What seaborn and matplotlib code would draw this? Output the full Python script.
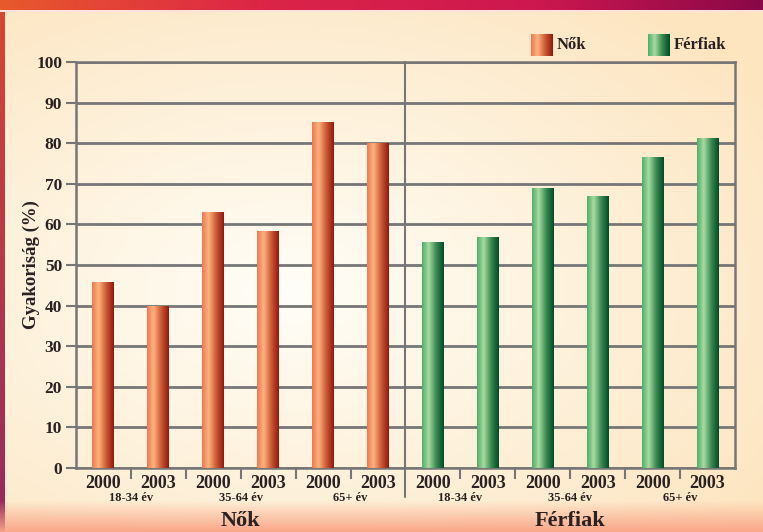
import numpy as np
import pandas as pd
import matplotlib.pyplot as plt
import seaborn as sns
from matplotlib.colors import LinearSegmentedColormap

# ── Data ──────────────────────────────────────────────────────────────────────
groups      = ["Nők", "Férfiak"]
age_groups  = ["18-34 év", "35-64 év", "65+ év"]
years       = ["2000", "2003"]
nok_vals    = [45.7, 39.7, 63.0, 58.3, 85.1, 80.0]
ferfi_vals  = [55.5, 56.7, 68.8, 66.8, 76.6, 81.2]

rows = []
for g, vals in zip(groups, [nok_vals, ferfi_vals]):
    i = 0
    for a in age_groups:
        for y in years:
            rows.append({"nem": g, "kor": a, "ev": y, "ertek": vals[i],
                         "slot": f"{g}|{a}|{y}"})
            i += 1
df = pd.DataFrame(rows)

# ── Style ─────────────────────────────────────────────────────────────────────
sns.set_style("white")
plt.rcParams["font.family"] = ["Liberation Serif", "DejaVu Serif"]
GREY = "#767676"
TXT = "#2a2222"

W, H = 763, 532
fig = plt.figure(figsize=(W / 100, H / 100), dpi=100)

# ── Background gradient ───────────────────────────────────────────────────────
yy, xx = np.mgrid[0:H, 0:W]
d = np.sqrt(((xx - W * 0.38) / (W * 0.75)) ** 2 + ((yy - H * 0.55) / (H * 0.7)) ** 2)
d = np.clip(d, 0, 1)[..., None]
centre = np.array([255, 254, 248]) / 255
edge = np.array([253, 229, 192]) / 255
img = centre * (1 - d) + edge * d

# top band
t = np.linspace(0, 1, W)
top_cols = np.array([[232, 90, 44], [220, 36, 72], [205, 24, 80], [138, 8, 72]]) / 255
stops = np.array([0, 0.35, 0.7, 1])
band = np.stack([np.interp(t, stops, top_cols[:, k]) for k in range(3)], axis=1)
img[0:10, :, :] = band[None, :, :]
img[10:12, :, :] = np.array([252, 226, 220]) / 255
# left strip
s = np.linspace(0, 1, H - 12)
left_col = np.stack([np.interp(s, [0, 1], [c0, c1]) for c0, c1 in
                     zip([214, 70, 50], [150, 40, 96])], axis=1) / 255
img[12:, 0:5, :] = left_col[:, None, :]
# bottom glow
b = np.clip((yy[..., None] - 500) / 32, 0, 1)
img = img * (1 - b) + np.array([249, 165, 135]) / 255 * b

bg = fig.add_axes([0, 0, 1, 1], zorder=0)
bg.imshow(img, aspect="auto", extent=[0, 1, 0, 1], origin="upper")
bg.axis("off")

# ── Bars ──────────────────────────────────────────────────────────────────────
nok_cmap = LinearSegmentedColormap.from_list(
    "nok", [(0, "#ee7a55"), (0.3, "#fcb37e"), (0.65, "#cc5a36"), (1, "#92180f")])
ferfi_cmap = LinearSegmentedColormap.from_list(
    "ferfi", [(0, "#4fae6a"), (0.3, "#a8dba2"), (0.65, "#3a8a52"), (1, "#004d26")])
cmaps = {"Nők": nok_cmap, "Férfiak": ferfi_cmap}

ax = fig.add_axes([76 / W, 1 - 468 / H, (735 - 76) / W, (468 - 62) / H], zorder=1)
ax.set_facecolor("none")
sns.barplot(data=df, x="slot", y="ertek", hue="nem", order=df["slot"],
            hue_order=groups, dodge=False, width=0.4, legend=False,
            palette=["#f08a5d", "#4fae6a"], ax=ax)

grad = np.linspace(0, 1, 64)[None, :]
for cont, g in zip(ax.containers, groups):
    for p in cont:
        x0, w, h = p.get_x(), p.get_width(), p.get_height()
        if np.isnan(h):
            continue
        p.set_facecolor("none")
        p.set_edgecolor("none")
        ax.imshow(grad, cmap=cmaps[g], aspect="auto", extent=[x0, x0 + w, 0, h],
                  zorder=3, interpolation="bilinear")

ax.set_xlim(-0.5, 11.5)
ax.set_ylim(0, 100)

# ── Axes decoration ───────────────────────────────────────────────────────────
ax.set_yticks(range(0, 101, 10))
ax.set_yticklabels([str(v) for v in range(0, 101, 10)], fontsize=12.5,
                   fontweight="bold", color=TXT)
ax.yaxis.grid(True, color=GREY, lw=2, zorder=1)
ax.set_axisbelow(True)
ax.tick_params(axis="y", length=7, width=1.5, color=GREY, pad=3, left=True)

ax.set_xticks(range(12))
ax.set_xticklabels(years * 6, fontsize=13, fontweight="bold", color=TXT)
ax.tick_params(axis="x", length=0, pad=5)
ax.set_xticks([i + 0.5 for i in range(11) if i != 5], minor=True)
ax.tick_params(axis="x", which="minor", length=8, width=1.5, color=GREY, bottom=True)

for side in ["left", "right", "bottom", "top"]:
    ax.spines[side].set_visible(True)
    ax.spines[side].set_color(GREY)
    ax.spines[side].set_linewidth(1.8)

ax.axvline(5.5, ymin=-0.072, ymax=1, color=GREY, lw=1.5, clip_on=False, zorder=2)

xt = ax.get_xaxis_transform()
for gi, g in enumerate(groups):
    for ai, a in enumerate(age_groups):
        ax.text(gi * 6 + ai * 2 + 0.5, -0.073, a, transform=xt, ha="center",
                va="center", fontsize=9, fontweight="bold", color=TXT)
    ax.text(gi * 6 + 2.5, -0.13, g, transform=xt, ha="center", va="center",
            fontsize=16, fontweight="bold", color=TXT)

ax.set_xlabel("")
ax.set_ylabel("Gyakoriság (%)", fontsize=13.5, fontweight="bold", color=TXT)
ax.yaxis.set_label_coords(-0.055, 0.5)

# ── Legend ────────────────────────────────────────────────────────────────────
for g, lx in zip(groups, [531, 648]):
    bg.imshow(grad, cmap=cmaps[g], aspect="auto", interpolation="bilinear",
              extent=[lx / W, (lx + 22) / W, 1 - 56 / H, 1 - 34 / H], zorder=2)
    bg.text((lx + 26) / W, 1 - 45 / H, g, ha="left", va="center", fontsize=12,
            fontweight="bold", color=TXT)
bg.set_xlim(0, 1)
bg.set_ylim(0, 1)

fig.savefig("out.png", dpi=100)
plt.close(fig)
